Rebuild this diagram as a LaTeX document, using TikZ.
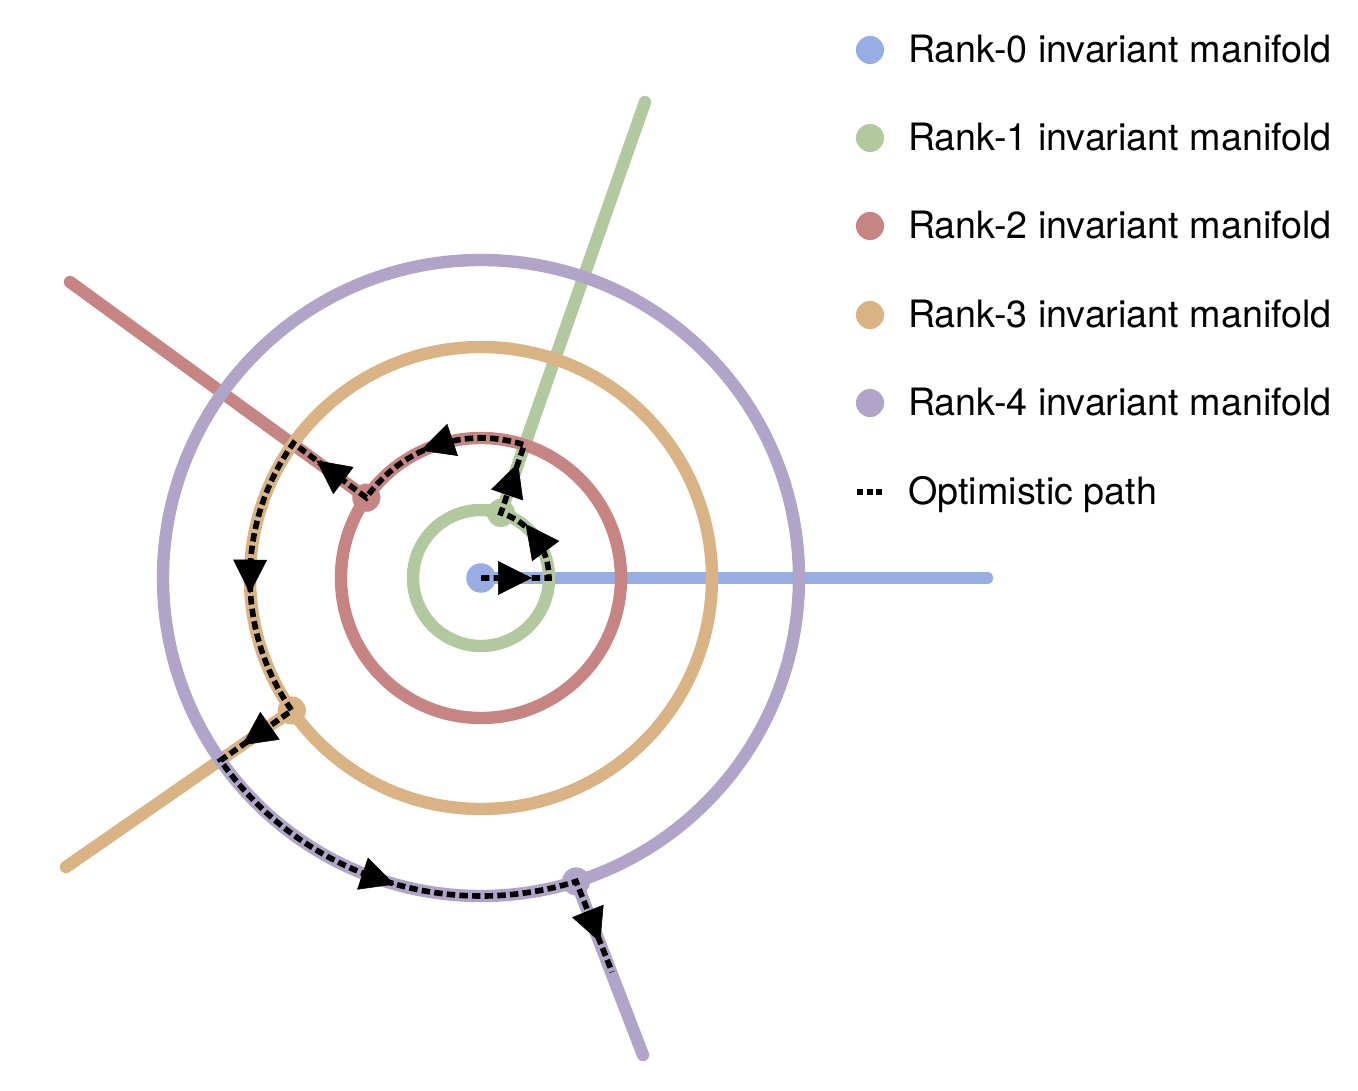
\documentclass[tikz,border=0pt]{standalone}
\usepackage{fontspec}
\setmainfont{TeX Gyre Heros}
\usetikzlibrary{arrows.meta, decorations.markings}
\definecolor{rankzero}{HTML}{97ADE3}
\definecolor{rankone}{HTML}{B2C9A0}
\definecolor{ranktwo}{HTML}{C68582}
\definecolor{rankthree}{HTML}{D9B383}
\definecolor{rankfour}{HTML}{B0A5C9}
\tikzset{
  manifold/.style={line width=8.8pt, line cap=round},
  mdot/.style={circle, fill=#1, inner sep=0pt, minimum size=20pt},
  optpath/.style={line width=4pt, dash pattern=on 6pt off 3pt},
  midarrow/.style={postaction={decorate}, decoration={markings,
    mark=at position .5 with {\arrow[xshift=12pt]{Triangle[length=24pt, width=24pt]}}}},
  legtext/.style={anchor=base west, inner sep=0pt, font=\fontsize{26.8}{32}\selectfont}
}

\begin{document}
\begin{tikzpicture}[x=0.025cm, y=0.025cm]
\useasboundingbox (-481,-512) rectangle (877,578);

% junctions and ray ends
\coordinate (c) at (0,0);
\coordinate (zend) at (506,0);
\coordinate (g) at (73:68);
\coordinate (gend) at (164,476);
\coordinate (r) at (145:140);
\coordinate (rend) at (-411,296);
\coordinate (o) at (215:231);
\coordinate (oend) at (-415,-289);
\coordinate (p) at (-72.6:318);
\coordinate (pend) at (162,-477);
\coordinate (gr) at (72:140);
\coordinate (ro) at (144.3:231);
\coordinate (op) at (215:318);
\coordinate (pstop) at (131,-394);

% rank 0
\draw[manifold, rankzero] (c) -- (zend);
\node[mdot=rankzero, minimum size=21pt] (dz) at (c) {};

% rank 1
\draw[manifold, rankone] (c) circle[radius=68];
\draw[manifold, rankone] (g) -- (gend);
\node[mdot=rankone] (dg) at (g) {};

% rank 2
\draw[manifold, ranktwo] (c) circle[radius=140];
\draw[manifold, ranktwo] (r) -- (rend);
\node[mdot=ranktwo] (dr) at (r) {};

% rank 3
\draw[manifold, rankthree] (c) circle[radius=231];
\draw[manifold, rankthree] (o) -- (oend);
\node[mdot=rankthree] (do) at (o) {};

% rank 4
\draw[manifold, rankfour] (c) circle[radius=318];
\draw[manifold, rankfour] (p) -- (pend);
\node[mdot=rankfour] (dp) at (p) {};

% optimistic path
\draw[optpath] (c) -- (0:68) arc[start angle=0, end angle=73, radius=68]
  -- (gr) arc[start angle=72, end angle=145, radius=140]
  -- (ro) arc[start angle=144.3, end angle=215, radius=231]
  -- (op) arc[start angle=215, end angle=287.4, radius=318]
  -- (pstop);

\path[midarrow] (c) -- (0:68);
\path[midarrow] (0:68) arc[start angle=0, end angle=73, radius=68];
\path[midarrow] (g) -- (gr);
\path[midarrow] (gr) arc[start angle=72, end angle=145, radius=140];
\path[midarrow] (r) -- (ro);
\path[midarrow] (ro) arc[start angle=144.3, end angle=215, radius=231];
\path[midarrow] (o) -- (op);
\path[midarrow] (op) arc[start angle=215, end angle=287.4, radius=318];
\path[midarrow] (p) -- (pstop);

% legend
\node[mdot=rankzero, minimum size=20pt] (k0) at (389,528) {};
\node[mdot=rankone, minimum size=20pt] (k1) at (389,440) {};
\node[mdot=ranktwo, minimum size=20pt] (k2) at (389,352) {};
\node[mdot=rankthree, minimum size=20pt] (k3) at (389,263) {};
\node[mdot=rankfour, minimum size=20pt] (k4) at (389,175) {};
\coordinate (k5a) at (376,86);
\coordinate (k5b) at (402,86);
\draw[optpath, dash pattern=on 4.3pt off 2.5pt] (k5a) -- (k5b);

\node[legtext] (t0) at (427,515.7) {Rank-0 invariant manifold};
\node[legtext] (t1) at (427,427.5) {Rank-1 invariant manifold};
\node[legtext] (t2) at (427,339.5) {Rank-2 invariant manifold};
\node[legtext] (t3) at (427,250.7) {Rank-3 invariant manifold};
\node[legtext] (t4) at (427,162.5) {Rank-4 invariant manifold};
\node[legtext] (t5) at (427,73.8) {Optimistic path};

\end{tikzpicture}
\end{document}
